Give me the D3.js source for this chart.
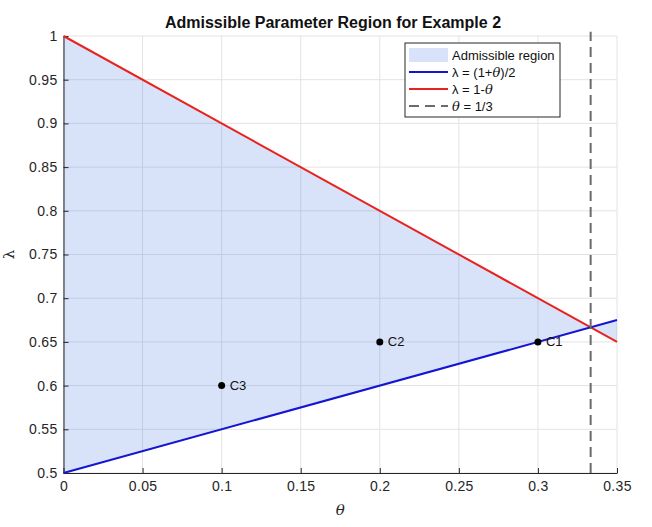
<!DOCTYPE html>
<html>
<head>
<meta charset="utf-8">
<script src="https://cdn.jsdelivr.net/npm/d3@7"></script>
<style>
  body { margin: 0; background: #fff; }
  svg { font-family: "Liberation Sans", Arial, Helvetica, sans-serif; }
</style>
</head>
<body>
<svg id="chart" width="652" height="527"></svg>
<script>
// Axis ticks
const thetaTicks = [0, 0.05, 0.1, 0.15, 0.2, 0.25, 0.3, 0.35];
const lambdaTicks = [0.5, 0.55, 0.6, 0.65, 0.7, 0.75, 0.8, 0.85, 0.9, 0.95, 1];

// Boundary lines (theta, lambda)
const lowerLine = [[0, 0.5], [0.35, 0.675]];   // lambda = (1+theta)/2
const upperLine = [[0, 1], [0.35, 0.65]];      // lambda = 1-theta
const thetaLimit = 1 / 3;

// Cases
const caseNames = ["C1", "C2", "C3"];
const caseTheta = [0.3, 0.2, 0.1];
const caseLambda = [0.65, 0.65, 0.6];

const margin = { top: 36, right: 35, bottom: 54, left: 63.5 };
const width = 652, height = 527;

const svg = d3.select("#chart");

const x = d3.scaleLinear().domain([0, 0.35]).range([margin.left, width - margin.right]);
const y = d3.scaleLinear().domain([0.5, 1]).range([height - margin.bottom, margin.top]);

// Grid
const grid = svg.append("g");
grid.selectAll(".gx").data(thetaTicks).enter().append("line")
  .attr("x1", d => x(d)).attr("x2", d => x(d))
  .attr("y1", y(0.5)).attr("y2", y(1))
  .attr("stroke", "#e3e3e3").attr("stroke-width", 1);
grid.selectAll(".gy").data(lambdaTicks).enter().append("line")
  .attr("x1", x(0)).attr("x2", x(0.35))
  .attr("y1", d => y(d)).attr("y2", d => y(d))
  .attr("stroke", "#e3e3e3").attr("stroke-width", 1);

// Admissible region (between the two lines)
const region = lowerLine.concat(upperLine.slice().reverse());
svg.append("path")
  .attr("d", d3.line().x(d => x(d[0])).y(d => y(d[1]))(region) + "Z")
  .attr("fill", "rgb(77,128,230)")
  .attr("fill-opacity", 0.22);

// Axes
const xAxis = d3.axisBottom(x).tickValues(thetaTicks).tickFormat(d3.format("~g"))
  .tickSizeInner(-5).tickSizeOuter(0).tickPadding(6);
const yAxis = d3.axisLeft(y).tickValues(lambdaTicks).tickFormat(d3.format("~g"))
  .tickSizeInner(-5).tickSizeOuter(0).tickPadding(6);

const gx = svg.append("g").attr("transform", `translate(0,${y(0.5)})`).call(xAxis);
const gy = svg.append("g").attr("transform", `translate(${x(0)},0)`).call(yAxis);
[gx, gy].forEach(g => {
  g.select(".domain").attr("stroke", "#262626").attr("stroke-width", 1);
  g.selectAll(".tick line").attr("stroke", "#262626");
  g.selectAll(".tick text").attr("fill", "#262626").attr("font-size", 14)
    .attr("letter-spacing", 0.3)
    .attr("font-family", "Liberation Sans, Arial, sans-serif");
});
gx.selectAll(".tick text").attr("dy", "0.85em");

// Lines
const line = d3.line().x(d => x(d[0])).y(d => y(d[1]));
svg.append("path").attr("d", line(upperLine))
  .attr("fill", "none").attr("stroke", "#e8221f").attr("stroke-width", 2);
svg.append("path").attr("d", line(lowerLine))
  .attr("fill", "none").attr("stroke", "#1414d2").attr("stroke-width", 2);
svg.append("line")
  .attr("x1", x(thetaLimit)).attr("x2", x(thetaLimit))
  .attr("y1", y(0.5)).attr("y2", y(1.005))
  .attr("stroke", "#6b6b6b").attr("stroke-width", 2)
  .attr("stroke-dasharray", "10,6");

// Cases
const cases = caseNames.map((n, i) => ({ name: n, t: caseTheta[i], l: caseLambda[i] }));
svg.selectAll(".pt").data(cases).enter().append("circle")
  .attr("cx", d => x(d.t)).attr("cy", d => y(d.l)).attr("r", 3.5).attr("fill", "#000");
svg.selectAll(".lbl").data(cases).enter().append("text")
  .attr("x", d => x(d.t) + 8).attr("y", d => y(d.l) + 4.5)
  .attr("font-size", 13).attr("fill", "#111").text(d => d.name);

// Title and labels
svg.append("text").attr("x", 333).attr("y", 28).attr("text-anchor", "middle")
  .attr("font-size", 16).attr("font-weight", "bold").attr("fill", "#111")
  .text("Admissible Parameter Region for Example 2");
svg.append("text").attr("x", x(0.175)).attr("y", 515).attr("text-anchor", "middle")
  .attr("font-size", 15).attr("font-style", "italic").attr("font-family", "DejaVu Serif, serif")
  .attr("fill", "#262626").text("θ");
svg.append("text").attr("transform", `translate(14,${y(0.75)}) rotate(-90)`)
  .attr("text-anchor", "middle").attr("font-size", 15).attr("font-family", "DejaVu Serif, serif")
  .attr("fill", "#262626").text("λ");

// Legend
const lg = svg.append("g").attr("transform", "translate(405,43)");
lg.append("rect").attr("width", 155).attr("height", 74)
  .attr("fill", "#fff").attr("stroke", "#262626").attr("stroke-width", 1);
const rows = [
  { type: "patch" },
  { type: "line", color: "#1414d2", parts: ["λ = (1+", "θ", ")/2"] },
  { type: "line", color: "#e8221f", parts: ["λ = 1-", "θ"] },
  { type: "dash", color: "#6b6b6b", parts: ["θ", " = 1/3"] }
];
rows.forEach((r, i) => {
  const cy = 12 + i * 17;
  if (r.type === "patch") {
    lg.append("rect").attr("x", 4).attr("y", cy - 7).attr("width", 39).attr("height", 14)
      .attr("fill", "rgb(77,128,230)").attr("fill-opacity", 0.22);
  } else {
    lg.append("line").attr("x1", 4).attr("x2", 43).attr("y1", cy).attr("y2", cy)
      .attr("stroke", r.color).attr("stroke-width", 2)
      .attr("stroke-dasharray", r.type === "dash" ? "10,6" : null);
  }
  const t = lg.append("text").attr("x", 47).attr("y", cy + 4.5)
    .attr("font-size", 13).attr("fill", "#111");
  if (r.type === "patch") {
    t.text("Admissible region");
  } else {
    r.parts.forEach(p => {
      const s = t.append("tspan").text(p);
      if (p === "θ") s.attr("font-style", "italic").attr("font-family", "DejaVu Serif, serif");
    });
  }
});
</script>
</body>
</html>
